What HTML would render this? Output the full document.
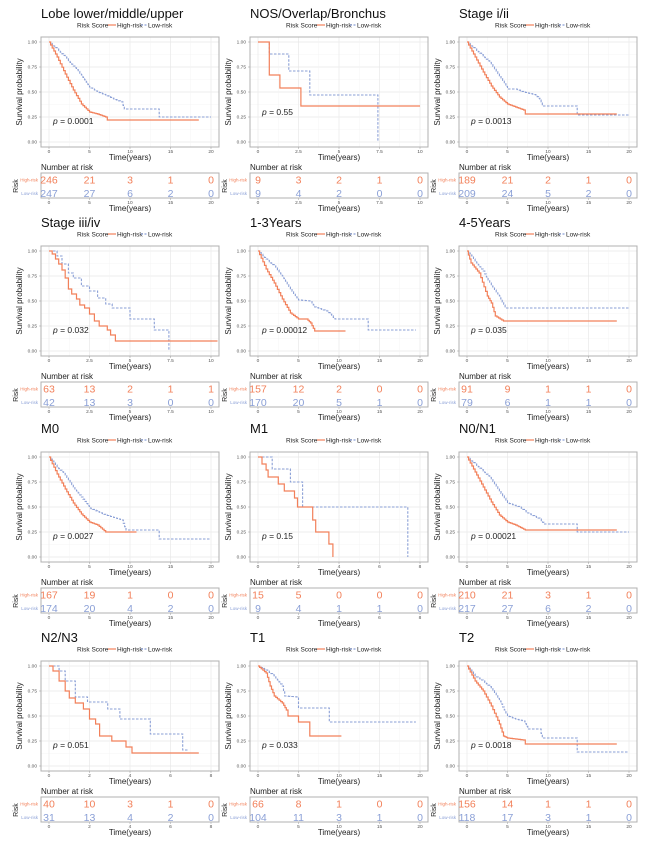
<!DOCTYPE html>
<html><head><meta charset="utf-8"><style>
html,body{margin:0;padding:0;background:#fff;}
svg{display:block;font-family:"Liberation Sans",sans-serif;}
</style></head><body>
<svg id="s" width="658" height="852" viewBox="0 0 658 852" xmlns="http://www.w3.org/2000/svg"></svg>
<script>
var R="#f2805a",B="#8a9fd6";
var P=[
{t:"Lobe lower/middle/upper",x:[0,20,5],p:"0.0001",py:121,st:0,
h:[[0,1],[1,.85],[2,.68],[3,.52],[4,.38],[5,.3],[6,.28],[7,.25],[7.2,.22],[18.5,.22]],
l:[[0,1],[1,.93],[2,.85],[3,.76],[4,.67],[5,.55],[6,.5],[7,.47],[8,.43],[9,.4],[9.3,.33],[13.5,.33],[13.6,.25],[20,.25]],
n:[[246,21,3,1,0],[247,27,6,2,0]]},
{t:"NOS/Overlap/Bronchus",x:[0,10,2.5],p:"0.55",py:112,st:1,
h:[[0,1],[.7,.67],[1.35,.54],[2.65,.36],[10,.36]],
l:[[0,1],[.7,.88],[1.9,.71],[3.2,.47],[7.4,0]],
n:[[9,3,2,1,0],[9,4,2,0,0]]},
{t:"Stage i/ii",x:[0,20,5],p:"0.0013",py:121,st:0,
h:[[0,1],[1,.85],[2,.7],[3,.56],[4,.45],[5,.38],[6,.35],[7,.32],[7.2,.28],[18.5,.28]],
l:[[0,1],[1,.93],[2,.86],[3,.78],[4,.66],[5,.53],[6,.53],[7,.5],[8.5,.47],[9,.42],[9.3,.36],[13.5,.36],[13.6,.27],[20,.27]],
n:[[189,21,2,1,0],[209,24,5,2,0]]},
{t:"Stage iii/iv",x:[0,10,2.5],p:"0.032",py:121,st:1,
h:[[0,1],[.2,.97],[.4,.92],[.6,.87],[.8,.81],[1,.73],[1.2,.62],[1.4,.57],[1.7,.52],[1.9,.46],[2.2,.43],[2.5,.37],[2.8,.3],[3.1,.25],[3.6,.21],[3.8,.16],[4.1,.1],[10.4,.1]],
l:[[0,1],[.5,.95],[.8,.87],[1.2,.78],[1.5,.73],[2,.65],[2.5,.6],[3,.53],[3.5,.47],[3.9,.43],[5,.32],[6.5,.21],[7.4,0]],
n:[[63,13,2,1,1],[42,13,3,0,0]]},
{t:"1-3Years",x:[0,20,5],p:"0.00012",py:121,st:0,
h:[[0,1],[1,.82],[2,.68],[3,.52],[4,.38],[5,.32],[6,.32],[6.5,.28],[7,.2],[10.8,.2]],
l:[[0,1],[1,.92],[2,.85],[3,.75],[4,.62],[5,.51],[6.5,.5],[7,.44],[8.5,.4],[9.5,.32],[13.5,.32],[13.6,.21],[19.5,.21]],
n:[[157,12,2,0,0],[170,20,5,1,0]]},
{t:"4-5Years",x:[0,20,5],p:"0.035",py:121,st:0,
h:[[0,1],[.5,.88],[1.5,.78],[2.5,.55],[3,.48],[3.5,.35],[4.5,.3],[18.5,.3]],
l:[[0,1],[1,.9],[2,.8],[3,.65],[4,.55],[4.7,.43],[20,.43]],
n:[[91,9,1,1,0],[79,6,1,1,0]]},
{t:"M0",x:[0,20,5],p:"0.0027",py:121,st:0,
h:[[0,1],[1,.83],[2,.68],[3,.54],[4,.43],[5,.35],[6,.32],[7,.25],[10.8,.25]],
l:[[0,1],[1,.9],[2,.82],[3,.7],[4,.6],[5,.49],[7,.42],[9,.37],[9.5,.27],[13.5,.27],[13.6,.18],[20,.18]],
n:[[167,19,1,0,0],[174,20,4,2,0]]},
{t:"M1",x:[0,8,2],p:"0.15",py:121,st:1,
h:[[0,1],[.2,.93],[.4,.87],[.5,.8],[1,.73],[1.3,.66],[1.8,.59],[1.95,.5],[2.7,.37],[2.85,.25],[3.5,.13],[3.7,0]],
l:[[0,1],[.7,.88],[1.6,.75],[2.2,.5],[7.4,0]],
n:[[15,5,0,0,0],[9,4,1,1,0]]},
{t:"N0/N1",x:[0,20,5],p:"0.00021",py:121,st:0,
h:[[0,1],[1,.85],[2,.7],[3,.55],[4,.42],[5,.35],[6,.32],[7.2,.27],[18.5,.27]],
l:[[0,1],[1,.93],[2,.86],[3,.78],[4,.66],[5,.54],[6.5,.5],[7.5,.44],[9,.38],[9.5,.33],[13.5,.33],[13.6,.25],[20,.25]],
n:[[210,21,3,1,0],[217,27,6,2,0]]},
{t:"N2/N3",x:[0,8,2],p:"0.051",py:121,st:1,
h:[[0,1],[.2,.95],[.5,.85],[.8,.75],[1,.68],[1.3,.63],[1.7,.57],[2,.47],[2.3,.42],[2.5,.3],[3.1,.25],[3.8,.19],[4.1,.13],[7.4,.13]],
l:[[0,1],[.5,.95],[.8,.85],[1.3,.69],[1.9,.64],[2.9,.57],[3.5,.47],[5,.32],[6.6,.16],[6.9,.16]],
n:[[40,10,3,1,0],[31,13,4,2,0]]},
{t:"T1",x:[0,20,5],p:"0.033",py:121,st:0,
h:[[0,1],[1,.93],[1.5,.8],[2,.7],[3,.63],[3.5,.56],[3.7,.5],[5,.5],[5,.44],[6.3,.44],[6.4,.3],[10.3,.3]],
l:[[0,1],[1,.96],[2,.9],[3,.8],[3.3,.7],[5,.69],[5,.58],[8.7,.58],[8.8,.44],[19.5,.44]],
n:[[66,8,1,0,0],[104,11,3,1,0]]},
{t:"T2",x:[0,20,5],p:"0.0018",py:121,st:0,
h:[[0,1],[1,.85],[2,.75],[3,.6],[4,.42],[4.5,.3],[5,.28],[7,.26],[7.2,.22],[18.5,.22]],
l:[[0,1],[1,.9],[2,.85],[3,.78],[4,.65],[5,.5],[6,.47],[7,.45],[7.5,.37],[9,.37],[9.3,.28],[13.5,.28],[13.6,.14],[20,.14]],
n:[[156,14,1,1,0],[118,17,3,1,0]]}
];
var CO=[0,209,418],RO=[0,209,415,624];
var out="";
function fx(v,X){return 49+(v-X[0])/(X[1]-X[0])*162;}
function fy(v){return 142-v*100;}
function path(pts,X,st){
  var d="M"+fx(pts[0][0],X).toFixed(1)+","+fy(pts[0][1]).toFixed(1);
  var cs=pts[0][1];
  for(var i=1;i<pts.length;i++){
    var t1=pts[i-1][0],t2=pts[i][0],s2=pts[i][1];
    if(st||s2==cs||t2==t1){
      d+="H"+fx(t2,X).toFixed(1)+"V"+fy(s2).toFixed(1);cs=s2;continue;
    }
    var k=Math.max(1,Math.ceil((t2-t1)/0.22));var s1=cs;
    for(var j=1;j<=k;j++){
      var t=t1+(t2-t1)*j/k,s=s1+(s2-s1)*j/k;
      d+="H"+fx(t,X).toFixed(1)+"V"+fy(s).toFixed(1);
    }
    cs=s2;
  }
  return d;
}
function fmt(v){return v.toString();}
P.forEach(function(p,i){
  var ox=CO[i%3],oy=RO[Math.floor(i/3)],X=p.x;
  out+='<g transform="translate('+ox+','+oy+')">';
  out+='<text x="41" y="18" font-size="13" fill="#111">'+p.t+'</text>';
  out+='<text x="77" y="27.3" font-size="6.5" fill="#222">Risk Score</text>';
  out+='<line x1="108" y1="25" x2="116" y2="25" stroke="'+R+'" stroke-width="1.2"/>';
  out+='<text x="117" y="27.3" font-size="6.5" fill="#222">High-risk</text>';
  out+='<line x1="141" y1="25" x2="147" y2="25" stroke="'+B+'" stroke-width="1.2" stroke-dasharray="2,1.5"/>';
  out+='<text x="148" y="27.3" font-size="6.5" fill="#222">Low-risk</text>';
  var g="";
  for(var v=0;v<=1.0001;v+=0.125){var y=fy(v);g+='<line x1="41" x2="219" y1="'+y+'" y2="'+y+'" stroke="'+(Math.round(v*8)%2?"#f4f4f4":"#e8e8e8")+'" stroke-width="'+(Math.round(v*8)%2?0.5:0.7)+'"/>';}
  for(var t=X[0];t<=X[1]+1e-6;t+=X[2]/2){var x=fx(t,X);var maj=Math.abs((t/X[2])-Math.round(t/X[2]))<1e-6;g+='<line y1="37" y2="147" x1="'+x+'" x2="'+x+'" stroke="'+(maj?"#e8e8e8":"#f4f4f4")+'" stroke-width="'+(maj?0.7:0.5)+'"/>';}
  out+=g;
  out+='<rect x="41" y="37" width="178" height="110" fill="none" stroke="#b0b0b0" stroke-width="1"/>';
  ["0.00","0.25","0.50","0.75","1.00"].forEach(function(s,j){var y=fy(j*.25);
    out+='<text x="37" y="'+(y+1.7)+'" font-size="4.8" fill="#555" text-anchor="end">'+s+'</text><line x1="39" x2="41" y1="'+y+'" y2="'+y+'" stroke="#999" stroke-width="0.5"/>';});
  var xt=[];for(var t=X[0];t<=X[1]+1e-6;t+=X[2])xt.push(t);
  xt.forEach(function(t){var x=fx(t,X);
    out+='<text x="'+x+'" y="153" font-size="4.8" fill="#555" text-anchor="middle">'+fmt(t)+'</text><line x1="'+x+'" x2="'+x+'" y1="147" y2="149" stroke="#999" stroke-width="0.5"/>';
    out+='<text x="'+x+'" y="204" font-size="4.8" fill="#555" text-anchor="middle">'+fmt(t)+'</text><line x1="'+x+'" x2="'+x+'" y1="198" y2="200" stroke="#999" stroke-width="0.5"/>';});
  out+='<text transform="translate(22,92) rotate(-90)" font-size="8" fill="#222" text-anchor="middle">Survival probability</text>';
  out+='<text x="130" y="160" font-size="8" fill="#222" text-anchor="middle">Time(years)</text>';
  out+='<path d="'+path(p.l,X,p.st)+'" fill="none" stroke="'+B+'" stroke-width="1.1" stroke-dasharray="2.5,1.5"/>';
  out+='<path d="'+path(p.h,X,p.st)+'" fill="none" stroke="'+R+'" stroke-width="1.2"/>';
  out+='<text x="53" y="'+(p.py+3)+'" font-size="8.5" fill="#222"><tspan font-style="italic">p</tspan> = '+p.p+'</text>';
  out+='<text x="41" y="170" font-size="8" fill="#222">Number at risk</text>';
  out+='<rect x="41" y="173" width="178" height="25" fill="none" stroke="#b0b0b0" stroke-width="1"/>';
  out+='<text x="38" y="181.5" font-size="4.5" fill="'+R+'" text-anchor="end">High-risk</text>';
  out+='<text x="38" y="195" font-size="4.5" fill="'+B+'" text-anchor="end">Low-risk</text>';
  out+='<text transform="translate(18,186) rotate(-90)" font-size="7" fill="#222" text-anchor="middle">Risk</text>';
  xt.forEach(function(t,j){var x=fx(t,X);
    out+='<text x="'+x+'" y="183.5" font-size="10.5" fill="'+R+'" text-anchor="middle">'+p.n[0][j]+'</text>';
    out+='<text x="'+x+'" y="197" font-size="10.5" fill="'+B+'" text-anchor="middle">'+p.n[1][j]+'</text>';});
  out+='<text x="130" y="211" font-size="8" fill="#222" text-anchor="middle">Time(years)</text>';
  out+='</g>';
});
document.getElementById("s").innerHTML=out;
</script>
</body></html>
